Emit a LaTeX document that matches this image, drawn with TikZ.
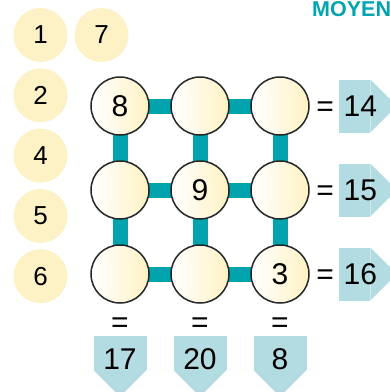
\documentclass[tikz,border=0pt]{standalone}
\usepackage{fontspec}
\setmainfont{Liberation Sans}
\usepackage{tikz}
\usetikzlibrary{positioning,backgrounds}
\definecolor{tileyellow}{HTML}{FDF2C5}
\definecolor{ballyellow}{HTML}{FFF2C4}
\definecolor{barteal}{HTML}{00A4AE}
\definecolor{sumblue}{HTML}{B3DCE2}

\begin{document}
\begin{tikzpicture}[x=1pt, y=-1pt,
  tile/.style={circle, fill=tileyellow, minimum size=54pt,
               inner sep=0pt, outer sep=0pt, font=\fontsize{26}{26}\selectfont},
  ball/.style={circle, draw=black!85, line width=1.5pt,
               left color=white, right color=ballyellow,
               minimum size=58pt, inner sep=0pt, font=\fontsize{30}{30}\selectfont},
  bar/.style={draw=barteal, line width=15pt},
  eq/.style={inner sep=0pt, text height=20pt, text depth=0pt,
             font=\fontsize{30}{30}\selectfont},
  sumtext/.style={inner sep=0pt, font=\fontsize{30}{30}\selectfont},
  rsum/.style={rectangle, fill=sumblue, minimum width=31pt, minimum height=53pt,
               inner sep=0pt, outer sep=0pt},
  dsum/.style={rectangle, fill=sumblue, minimum width=53pt, minimum height=34pt,
               inner sep=0pt, outer sep=0pt},
  tip/.style={fill=sumblue},
  ]
  \useasboundingbox (0,0) rectangle (390,392);

  \node[anchor=base west, inner sep=0pt, text=barteal,
        font=\bfseries\fontsize{21.5}{21.5}\selectfont] (level) at (312,16) {MOYEN};

  % tiles to place
  \node[tile] (t1) at (40.5,35) {1};
  \node[tile, right=7pt of t1] (t7) {7};
  \node[tile, below=6.3pt of t1] (t2) {2};
  \node[tile, below=6.3pt of t2] (t4) {4};
  \node[tile, below=6.3pt of t4] (t5) {5};
  \node[tile, below=6.3pt of t5] (t6) {6};

  % grid
  \node[ball] (g11) at (120,106) {8};
  \node[ball, right=20.5pt of g11] (g12) {};
  \node[ball, right=20.5pt of g12] (g13) {};
  \node[ball, below=24.5pt of g11] (g21) {};
  \node[ball, right=20.5pt of g21] (g22) {9};
  \node[ball, right=20.5pt of g22] (g23) {};
  \node[ball, below=24.5pt of g21] (g31) {};
  \node[ball, right=20.5pt of g31] (g32) {};
  \node[ball, right=20.5pt of g32] (g33) {3};

  % row sums
  \node[eq, right=6.5pt of g13] (e1) {=};
  \node[eq, right=6.5pt of g23] (e2) {=};
  \node[eq, right=6.5pt of g33] (e3) {=};
  \node[rsum, right=5.25pt of e1, label={[sumtext, xshift=5.5pt]center:14}] (r1) {};
  \node[rsum, right=5.25pt of e2, label={[sumtext, xshift=5.5pt]center:15}] (r2) {};
  \node[rsum, right=5.25pt of e3, label={[sumtext, xshift=5.5pt]center:16}] (r3) {};

  % column sums
  \node[eq, below=9pt of g31] (f1) {=};
  \node[eq, below=9pt of g32] (f2) {=};
  \node[eq, below=9pt of g33] (f3) {=};
  \node[dsum, below=3pt of f1, label={[sumtext, yshift=-6pt]center:17}] (c1) {};
  \node[dsum, below=3pt of f2, label={[sumtext, yshift=-6pt]center:20}] (c2) {};
  \node[dsum, below=3pt of f3, label={[sumtext, yshift=-6pt]center:8}] (c3) {};

  \begin{scope}[on background layer]
    \draw[bar] (g11.center) -- (g12.center);
    \draw[bar] (g12.center) -- (g13.center);
    \draw[bar] (g21.center) -- (g22.center);
    \draw[bar] (g22.center) -- (g23.center);
    \draw[bar] (g31.center) -- (g32.center);
    \draw[bar] (g32.center) -- (g33.center);
    \draw[bar] (g11.center) -- (g21.center);
    \draw[bar] (g21.center) -- (g31.center);
    \draw[bar] (g12.center) -- (g22.center);
    \draw[bar] (g22.center) -- (g32.center);
    \draw[bar] (g13.center) -- (g23.center);
    \draw[bar] (g23.center) -- (g33.center);
    % pointed ends of the sum boxes
    \fill[tip] (r1.north east) -- ([xshift=26.5pt]r1.east) -- (r1.south east) -- cycle;
    \fill[tip] (r2.north east) -- ([xshift=26.5pt]r2.east) -- (r2.south east) -- cycle;
    \fill[tip] (r3.north east) -- ([xshift=26.5pt]r3.east) -- (r3.south east) -- cycle;
    \fill[tip] (c1.south west) -- ([yshift=-26.5pt]c1.south) -- (c1.south east) -- cycle;
    \fill[tip] (c2.south west) -- ([yshift=-26.5pt]c2.south) -- (c2.south east) -- cycle;
    \fill[tip] (c3.south west) -- ([yshift=-26.5pt]c3.south) -- (c3.south east) -- cycle;
  \end{scope}
\end{tikzpicture}
\end{document}
